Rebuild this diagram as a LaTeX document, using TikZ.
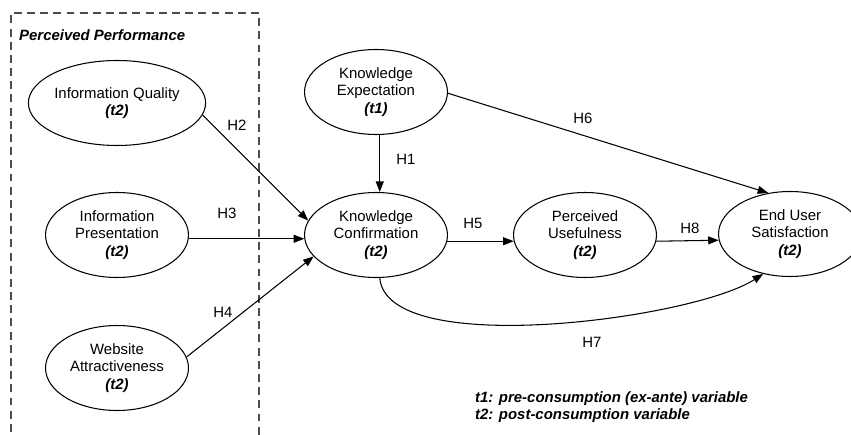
\documentclass[tikz,border=0pt]{standalone}
\usepackage{fontspec}
\setmainfont{Liberation Sans}
\usetikzlibrary{arrows.meta,shapes.geometric,calc}
\tikzset{
	>={Triangle[length=6pt,width=4.5pt]},
	construct/.style={
		ellipse,
		draw=black, line width=0.6pt,
		minimum width=2.86cm,
		minimum height=1.7cm,
		inner sep=0pt,
		align=center,
		font=\fontsize{8.5}{10}\selectfont},
	hyp/.style={draw, ->, line width=0.6pt},
	hlabel/.style={font=\fontsize{8.5}{10}\selectfont},
	note/.style={font=\fontsize{8.5}{9.6}\bfseries\itshape\selectfont, align=left},
}
\newcommand{\tmark}[1]{\textbf{\textit{(#1)}}}

\begin{document}
\begin{tikzpicture}[x=0.02cm, y=-0.02cm]
	\useasboundingbox (0,0) rectangle (851,435);

	% The dashed frame round the perceived performance constructs
	% (it is open at the bottom, so it runs out of the picture)
	\draw [black!70, line width=0.6pt, dash pattern=on 4.5pt off 3pt]
		(11,445) -- (11,13) -- (259,13) -- (259,445);
	\node [note, anchor=west] (pp) at (13,35) {Perceived Performance};

	% The constructs
	\node [construct] (iq) at (117,103) {Information Quality\\\tmark{t2}};
	\node [construct] (ip) at (117,235) {Information\\Presentation\\\tmark{t2}};
	\node [construct] (wa) at (117,368) {Website\\Attractiveness\\\tmark{t2}};
	\node [construct] (ke) at (376,92) {Knowledge\\Expectation\\\tmark{t1}};
	\node [construct] (kc) at (376,235) {Knowledge\\Confirmation\\\tmark{t2}};
	\node [construct] (pu) at (585,235) {Perceived\\Usefulness\\\tmark{t2}};
	\node [construct] (eus) at (790,234) {End User\\Satisfaction\\\tmark{t2}};

	% The hypotheses
	\draw [hyp] (iq.-8) -- (kc.168);
	\draw [hyp] (ip.-3) -- (kc.183);
	\draw [hyp] (wa.9) -- (kc.199);
	\draw [hyp] (ke.-85) -- (kc.85);
	\draw [hyp] (kc.-5) -- (pu.185);
	\draw [hyp] (pu.-5) -- (eus.185);
	\draw [hyp] (ke.-1) -- (eus.118);
	\draw [hyp] (kc.-85) .. controls ($(kc.-85)+(7,82)$) and ($(eus.236)+(-69,45)$) .. (eus.236);

	% Labels of the hypotheses
	\foreach \name/\x/\y in {1/406/159, 2/237/125, 3/227/213, 4/223/312,
		5/473/223, 6/583/118, 7/592/342, 8/690/228}
		\node [hlabel] (h\name) at (\x,\y) {H\name};

	% Legend
	\node [note, anchor=west] (legend) at (469,407)
		{t1: pre-consumption (ex-ante) variable\\t2: post-consumption variable};
\end{tikzpicture}
\end{document}
